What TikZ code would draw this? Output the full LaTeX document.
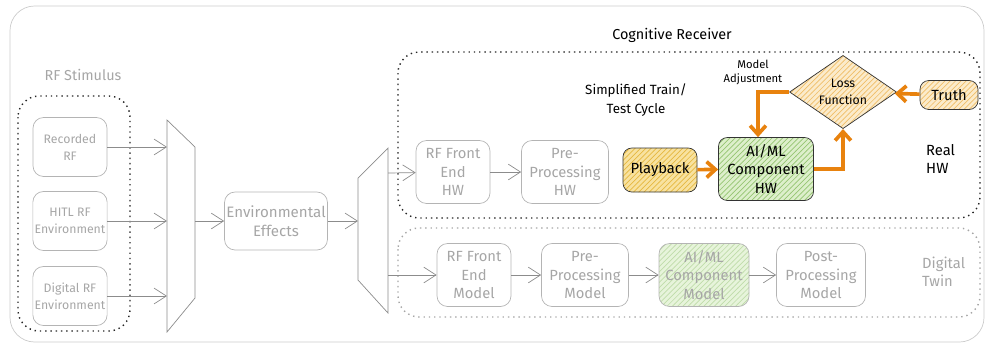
\documentclass[tikz,border=0pt]{standalone}
\usepackage{fontspec}
\setmainfont{Fira Sans}
\usetikzlibrary{arrows.meta,patterns,shapes.geometric}

\definecolor{faint}{HTML}{B4B4B4}
\definecolor{faintText}{HTML}{A6A6A6}
\definecolor{hot}{HTML}{E8820E}
\definecolor{playFill}{HTML}{F8E2A0}
\definecolor{playLine}{HTML}{E6B840}
\definecolor{lossFill}{HTML}{FBEBCB}
\definecolor{lossLine}{HTML}{F0BE68}
\definecolor{aiFill}{HTML}{DDEFCB}
\definecolor{aiLine}{HTML}{96C572}

\begin{document}
\begin{tikzpicture}[x=0.02cm,y=-0.02cm,
  gbox/.style={draw=faint,rounded corners=6pt,text=faintText,align=center,font=\fontsize{8.4}{10.4}\selectfont,inner sep=1pt},
  hbox/.style={draw=black!80,rounded corners=5pt,align=center,font=\fontsize{8.4}{10.4}\selectfont,inner sep=1pt},
  garrow/.style={draw=black!45,-{Straight Barb[length=7pt,width=9pt]}},
  harrow/.style={draw=hot,line width=2.1pt,-{Straight Barb[length=5pt,width=9pt]}},
  zone/.style={line width=0.8pt,dash pattern=on 0.8pt off 2.2pt,rounded corners=12pt}]
\useasboundingbox (0,0) rectangle (986,346);
\draw[black!20,rounded corners=14pt] (10,6) rectangle (984,342);

% stimulus side
\node[text=faintText,font=\fontsize{8.2}{10}\selectfont] (stimlabel) at (83,75) {RF Stimulus};
\draw[zone,black!85] (18,96) rectangle (130,331);
\node[gbox,minimum width=1.48cm,minimum height=1.18cm,font=\fontsize{7}{9.6}\selectfont] (rec) at (70,147) {Recorded\\RF};
\node[gbox,minimum width=1.48cm,minimum height=1.18cm,font=\fontsize{7}{9.6}\selectfont] (hitl) at (70,221) {HITL RF\\Environment};
\node[gbox,minimum width=1.48cm,minimum height=1.18cm,font=\fontsize{7}{9.6}\selectfont] (digi) at (70,296) {Digital RF\\Environment};

% first mux
\draw[black!45] (167,120) -- (195,147) -- (195,298) -- (167,332) -- cycle;
\coordinate (muxa) at (167,147);
\coordinate (muxb) at (167,221);
\coordinate (muxc) at (167,296);
\coordinate (muxout) at (195,221);
\draw[garrow] (rec) -- (muxa);
\draw[garrow] (hitl) -- (muxb);
\draw[garrow] (digi) -- (muxc);

\node[gbox,minimum width=2.06cm,minimum height=1.16cm,font=\fontsize{8.6}{10.6}\selectfont] (env) at (276,221) {Environmental\\Effects};
\draw[garrow] (muxout) -- (env);

% second mux
\draw[black!45] (358,178) -- (388,148) -- (388,313) -- (358,280) -- cycle;
\coordinate (demuxin) at (358,221);
\coordinate (demuxa) at (388,173);
\coordinate (demuxb) at (388,275);
\draw[garrow] (env) -- (demuxin);

% cognitive receiver
\node[font=\fontsize{8.2}{10}\selectfont] (coglabel) at (672,35) {Cognitive Receiver};
\draw[zone,black!85] (398,52) rectangle (980,218);
\draw[zone,black!35] (398,228) rectangle (980,317);

\node[gbox,minimum width=1.48cm,minimum height=1.26cm] (rfhw) at (453,172) {RF Front\\End\\HW};
\node[gbox,minimum width=1.74cm,minimum height=1.26cm] (prehw) at (565,172) {Pre-\\Processing\\HW};
\node[hbox,preaction={fill=playFill},pattern=north east lines,pattern color=playLine,minimum width=1.48cm,minimum height=0.88cm] (play) at (660,170) {Playback};
\node[hbox,preaction={fill=aiFill},pattern=north east lines,pattern color=aiLine,minimum width=1.9cm,minimum height=1.26cm] (aihw) at (766,169) {AI/ML\\Component\\HW};
\node[diamond,draw=black!80,preaction={fill=lossFill},pattern=north east lines,pattern color=lossLine,inner sep=0pt,minimum width=2.14cm,minimum height=1.4cm,align=center,font=\fontsize{7}{9.4}\selectfont] (loss) at (843,92) {Loss\\Function};
\node[hbox,preaction={fill=lossFill},pattern=north east lines,pattern color=lossLine,minimum width=1.16cm,minimum height=0.58cm] (truth) at (949,95) {Truth};

\node[align=center,font=\fontsize{7.6}{10.4}\selectfont] (cycle) at (636,100) {Simplified Train/\\Test Cycle};
\node[align=center,font=\fontsize{6.4}{8}\selectfont] (adjust) at (753,72) {Model\\Adjustment};
\node[anchor=west,align=left,font=\fontsize{8.4}{10.4}\selectfont] (realhw) at (920,159) {Real\\HW};

\draw[garrow] (demuxa) -- (rfhw);
\draw[garrow] (rfhw) -- (prehw);
\draw[harrow] (play) -- (aihw);
\draw[harrow] (truth) -- (loss);
\draw[harrow] (loss.west) -| ([xshift=-0.16cm]aihw.north);
\draw[harrow] (aihw.east) -| (loss.south);

% digital twin
\node[gbox,minimum width=1.48cm,minimum height=1.26cm] (rfm) at (474,275) {RF Front\\End\\Model};
\node[gbox,minimum width=1.74cm,minimum height=1.26cm] (prem) at (585,275) {Pre-\\Processing\\Model};
\node[gbox,preaction={fill=aiFill!70},pattern=north east lines,pattern color=aiLine!60,minimum width=1.8cm,minimum height=1.26cm] (aim) at (704,275) {AI/ML\\Component\\Model};
\node[gbox,minimum width=1.78cm,minimum height=1.26cm] (postm) at (821,275) {Post-\\Processing\\Model};
\node[anchor=west,align=left,text=faintText,font=\fontsize{8.4}{10.4}\selectfont] (twin) at (916,272) {Digital\\Twin};

\draw[garrow] (demuxb) -- (rfm);
\draw[garrow] (rfm) -- (prem);
\draw[garrow] (prem) -- (aim);
\draw[garrow] (aim) -- (postm);
\end{tikzpicture}
\end{document}
